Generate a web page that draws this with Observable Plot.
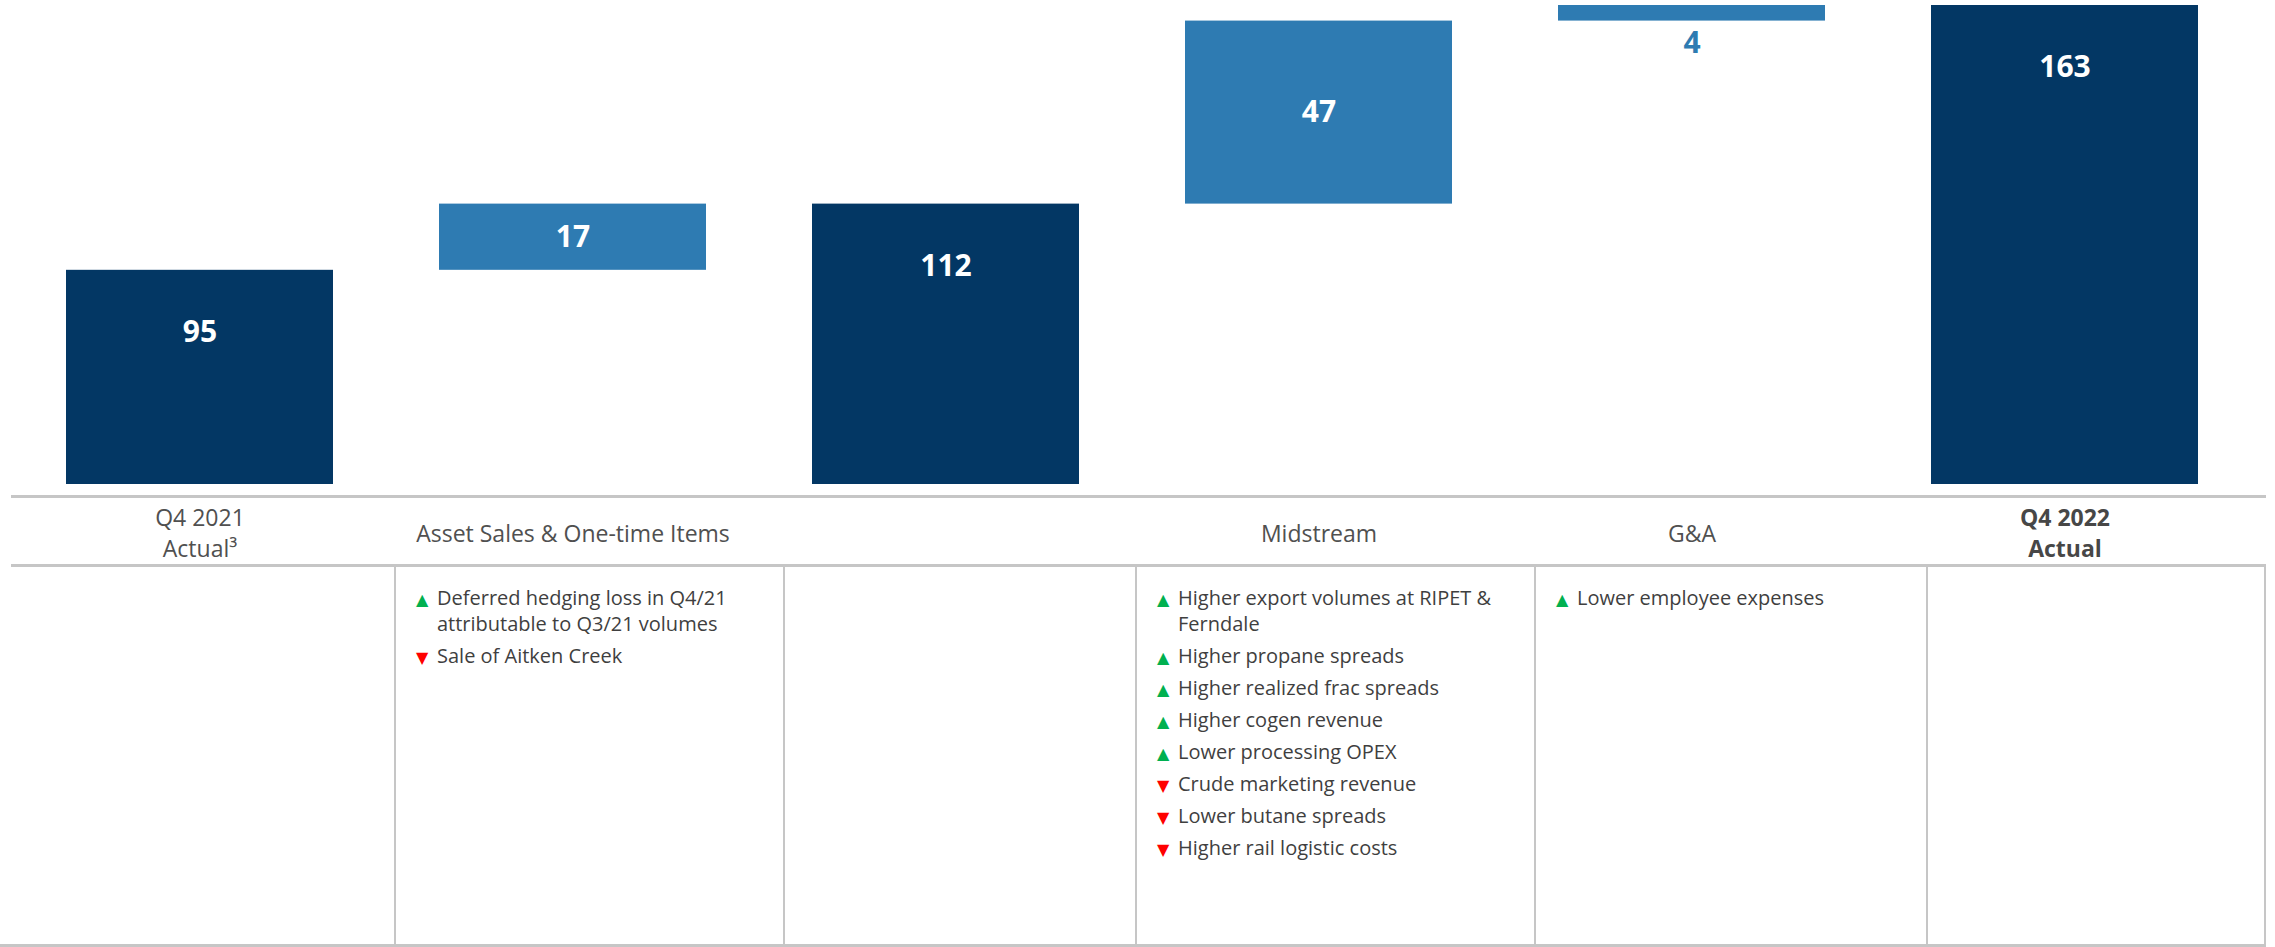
<!DOCTYPE html>
<html>
<head>
<meta charset="utf-8">
<script src="https://cdn.jsdelivr.net/npm/d3@7"></script>
<script src="https://cdn.jsdelivr.net/npm/@observablehq/plot@0.6"></script>
<style>
  html, body { margin: 0; padding: 0; background: #fff; }
  body { font-family: "Segoe UI", "Open Sans", sans-serif; }
  #wrap { position: relative; width: 2275px; height: 947px; overflow: hidden; }
  #wrap svg { position: absolute; left: 0; top: 0; }
  .hline { position: absolute; height: 3px; background: #c6c6c6; }
  .vline { position: absolute; width: 2px; background: #c6c6c6; }
  .col { position: absolute; color: #3f3f3f; font-size: 20px; }
  .bullet { display: flex; align-items: baseline; line-height: 26px; height: 26px; margin-bottom: 6px; white-space: pre; }
  .bullet.two { height: 52px; }
  .tri { display: inline-block; width: 21px; font-size: 16px; line-height: 1; font-family: "DejaVu Sans", sans-serif; flex: none; }
</style>
</head>
<body>
<div id="wrap"></div>
<script>
// ---- chart data ----
const categories = ["Q4 2021\nActual³", "Asset Sales & One-time Items", "", "Midstream", "G&A", "Q4 2022\nActual"];
const values = [95, 17, 112, 47, 4, 163];
const kinds = ["total", "delta", "total", "delta", "delta", "total"];
const boldLabels = ["Q4 2022\nActual"];

// ---- driver bullets (up = ▲ green, down = ▼ red) ----
const assetBullets = [
  ["up", "Deferred hedging loss in Q4/21\nattributable to Q3/21 volumes"],
  ["down", "Sale of Aitken Creek"]
];
const midstreamBullets = [
  ["up", "Higher export volumes at RIPET &\nFerndale"],
  ["up", "Higher propane spreads"],
  ["up", "Higher realized frac spreads"],
  ["up", "Higher cogen revenue"],
  ["up", "Lower processing OPEX"],
  ["down", "Crude marketing revenue"],
  ["down", "Lower butane spreads"],
  ["down", "Higher rail logistic costs"]
];
const gaBullets = [
  ["up", "Lower employee expenses"]
];
const bulletsByColumn = [[], assetBullets, [], midstreamBullets, gaBullets, []];

// ---- build waterfall rows ----
let running = 0;
const rows = categories.map((cat, i) => {
  let start, end;
  if (kinds[i] === "total") { start = 0; end = values[i]; running = values[i]; }
  else { start = running; end = running + values[i]; running = end; }
  return { cat, value: values[i], kind: kinds[i], start, end };
});

const navy = "#033764";
const blue = "#2e7bb2";
const smallDelta = d => d.kind === "delta" && d.value < 10;

const chart = Plot.plot({
  width: 2275,
  height: 566,
  marginTop: 5,
  marginBottom: 82,
  marginLeft: 65,
  marginRight: 76,
  style: { fontFamily: '"Segoe UI", "Open Sans", sans-serif', background: "transparent" },
  x: { domain: categories, paddingInner: 0.285, paddingOuter: 0, axis: null },
  y: { domain: [40, 163], clamp: true, axis: null },
  color: { domain: ["total", "delta"], range: [navy, blue] },
  marks: [
    Plot.barY(rows, { x: "cat", y1: "start", y2: "end", fill: "kind" }),
    Plot.text(rows.filter(d => d.kind === "total"), {
      x: "cat", y: "end", text: d => String(d.value), dy: 62,
      fill: "white", fontWeight: "bold", fontSize: 30, lineAnchor: "middle"
    }),
    Plot.text(rows.filter(d => d.kind === "delta" && !smallDelta(d)), {
      x: "cat", y: d => (d.start + d.end) / 2, text: d => String(d.value),
      fill: "white", fontWeight: "bold", fontSize: 30, lineAnchor: "middle"
    }),
    Plot.text(rows.filter(smallDelta), {
      x: "cat", y: "start", text: d => String(d.value), dy: 22,
      fill: blue, fontWeight: "bold", fontSize: 30, lineAnchor: "middle"
    }),
    Plot.text(rows.filter(d => !boldLabels.includes(d.cat)), {
      x: "cat", text: "cat", frameAnchor: "bottom", dy: 47, lineAnchor: "middle",
      fontSize: 23, lineHeight: 1.37, fill: "#505050"
    }),
    Plot.text(rows.filter(d => boldLabels.includes(d.cat)), {
      x: "cat", text: "cat", frameAnchor: "bottom", dy: 47, lineAnchor: "middle",
      fontSize: 23, lineHeight: 1.37, fill: "#474747", fontWeight: "bold"
    })
  ]
});

const wrap = document.getElementById("wrap");
wrap.appendChild(chart);

// ---- table grid ----
function div(cls, css) {
  const d = document.createElement("div");
  d.className = cls;
  Object.assign(d.style, css);
  wrap.appendChild(d);
  return d;
}
div("hline", { left: "11px", width: "2255px", top: "495px" });
div("hline", { left: "11px", width: "2255px", top: "564px" });
div("hline", { left: "0px", width: "2266px", top: "944px" });

const colEdges = [0, 395, 784, 1136, 1535, 1927, 2265];
colEdges.slice(1).forEach(x => div("vline", { left: (x - 1) + "px", top: "566px", height: "381px" }));

bulletsByColumn.forEach((list, i) => {
  if (!list.length) return;
  const col = div("col", { left: (colEdges[i] + 21) + "px", top: "585px" });
  list.forEach(([dir, text]) => {
    const b = document.createElement("div");
    b.className = "bullet" + (text.includes("\n") ? " two" : "");
    const t = document.createElement("span");
    t.className = "tri";
    t.textContent = dir === "up" ? "▲" : "▼";
    t.style.color = dir === "up" ? "#00b050" : "#ff0000";
    const s = document.createElement("span");
    s.textContent = text;
    b.appendChild(t);
    b.appendChild(s);
    col.appendChild(b);
  });
});
</script>
</body>
</html>
